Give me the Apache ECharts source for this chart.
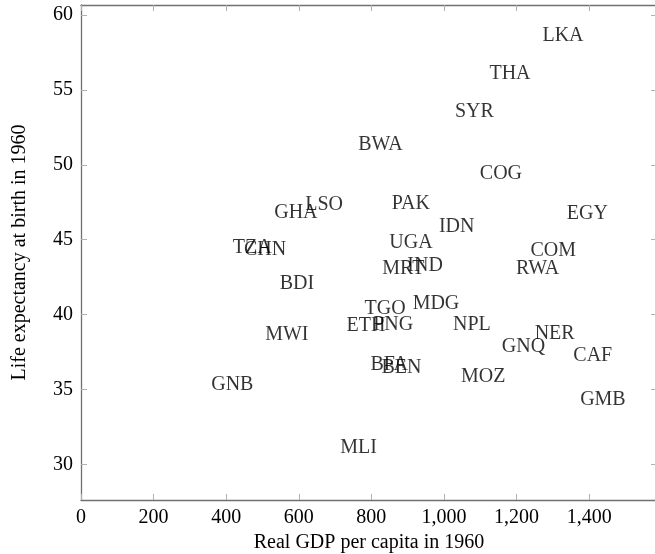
<!DOCTYPE html>
<html><head><meta charset="utf-8">
<script src="https://cdn.jsdelivr.net/npm/echarts@6/dist/echarts.min.js"></script>
<style>html,body{margin:0;padding:0;background:#fff;overflow:hidden}#c{width:655px;height:554px}</style>
</head><body><div id="c"></div>
<script>
const countries = ['LKA','THA','SYR','BWA','COG','PAK','EGY','IDN','UGA','COM','RWA','IND','MRT','GHA','LSO','TZA','CHN','BDI','MWI','TGO','ETH','PNG','MDG','NPL','BFA','BEN','MOZ','NER','GNQ','CAF','GMB','GNB','MLI'];
const gdp = [1328,1182,1084,825,1157,909,1395,1035,909,1301,1258,948,888,592,670,472,507,595,567,838,785,860,978,1077,849,883,1108,1305,1219,1410,1438,417,765];
const lifeExp = [57.82,55.27,52.71,50.49,48.57,46.61,45.90,45.05,43.97,43.41,42.23,42.41,42.21,45.97,46.50,43.62,43.50,41.23,37.80,39.57,38.40,38.47,39.90,38.50,35.85,35.62,35.01,37.92,37.01,36.45,33.52,34.50,30.30];
const xTicks = [0,200,400,600,800,1000,1200,1400];
const yTicks = [30,35,40,45,50,55,60];
const xRange = [0, 1587];
const yRange = [27.62, 60.67];

const FONT = '"Liberation Serif", "DejaVu Serif", serif';
const TXT = '#000';
const AX = '#707070';
const TICK = '#b0b0b0';
const fmtX = v => Number(v).toLocaleString('en-US');

const points = countries.map((c, i) => ({ name: c, value: [gdp[i], lifeExp[i]] }));

function axisCommon(ticks) {
  return {
    axisLine: { show: true, onZero: false, lineStyle: { color: AX, width: 1.3 } },
    axisTick: { show: true, inside: true, length: 6, customValues: ticks, lineStyle: { color: TICK, width: 1 } },
    axisLabel: { show: false },
    splitLine: { show: false }
  };
}

const chart = echarts.init(document.getElementById('c'), null, { renderer: 'canvas' });
chart.setOption({
  animation: false,
  backgroundColor: '#fff',
  grid: { left: 81, right: -2, top: 5, bottom: 54, containLabel: false, outerBoundsMode: 'none' },
  xAxis: [
    Object.assign({ type: 'value', position: 'bottom', min: xRange[0], max: xRange[1],
      name: 'Real GDP per capita in 1960', nameLocation: 'middle', nameGap: 31,
      nameTextStyle: { fontFamily: FONT, fontSize: 20, color: TXT } }, axisCommon(xTicks),
      { axisLabel: { show: true, customValues: xTicks, formatter: fmtX, fontFamily: FONT, fontSize: 20, color: TXT, margin: 8 } }),
    Object.assign({ type: 'value', position: 'top', min: xRange[0], max: xRange[1] }, axisCommon(xTicks))
  ],
  yAxis: [
    Object.assign({ type: 'value', position: 'left', min: yRange[0], max: yRange[1],
      name: 'Life expectancy at birth in 1960', nameLocation: 'middle', nameGap: 51,
      nameTextStyle: { fontFamily: FONT, fontSize: 20, color: TXT } }, axisCommon(yTicks),
      { axisLabel: { show: true, customValues: yTicks, formatter: v => String(v), fontFamily: FONT, fontSize: 20, color: TXT, margin: 8 } }),
    Object.assign({ type: 'value', position: 'right', min: yRange[0], max: yRange[1] }, axisCommon(yTicks))
  ],
  series: [{
    type: 'scatter',
    xAxisIndex: 0, yAxisIndex: 0,
    symbolSize: 0,
    data: points,
    label: {
      show: true, position: 'inside', offset: [0, -12.3],
      formatter: p => p.name,
      fontFamily: FONT, fontSize: 20, color: TXT
    },
    emphasis: { disabled: true }
  }]
});
</script></body></html>
